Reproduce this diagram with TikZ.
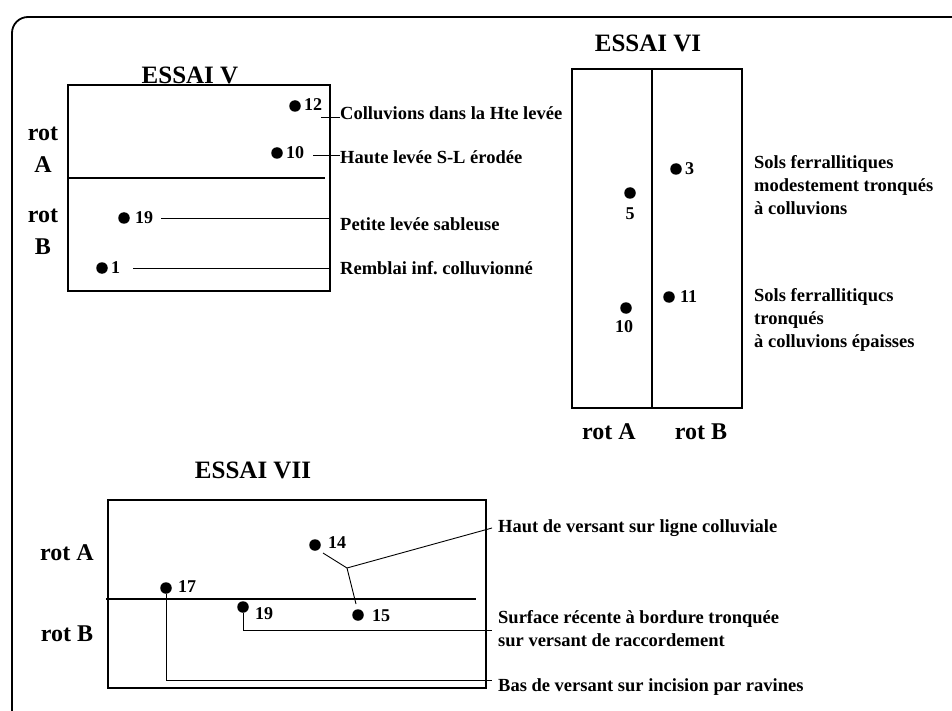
\documentclass[tikz,border=0pt]{standalone}
\usepackage{fontspec}
\setmainfont{Liberation Serif}
\begin{document}
\begin{tikzpicture}[x=1pt,y=-1pt,
  dot/.style={circle,fill=black,inner sep=0pt,minimum size=11.5pt},
  num/.style={font=\bfseries\fontsize{18}{18}\selectfont,inner sep=0pt,anchor=west},
  lab/.style={font=\bfseries\fontsize{18.5}{23}\selectfont,inner sep=0pt,anchor=west,align=left},
  ttl/.style={font=\bfseries\fontsize{25}{25}\selectfont,inner sep=0pt},
  rot/.style={font=\bfseries\fontsize{24}{32}\selectfont,inner sep=0pt,align=center},
  boxline/.style={line width=1.3pt},
  lead/.style={line width=0.9pt}]
\useasboundingbox (0,0) rectangle (952,711);
\begin{scope}
\clip (0,0) rectangle (952,711);
\draw[line width=1.8pt,rounded corners=16pt] (12,17) rectangle (1000,740);
\end{scope}

% ESSAI V
\node[ttl] (t5) at (190,75) {ESSAI V};
\draw[boxline] (68,85) rectangle (330,291);
\draw[boxline] (68,178) -- (325,178);
\node[rot] (r5a) at (43,150) {rot\\A};
\node[rot] (r5b) at (43,232) {rot\\B};
\node[dot] (d12) at (295,106) {};
\node[num] (n12) at (304,105) {12};
\node[dot] (d10) at (277,153) {};
\node[num] (n10) at (286,153) {10};
\node[dot] (d19) at (124,218) {};
\node[num] (n19) at (135,218) {19};
\node[dot] (d1) at (102,268) {};
\node[num] (n1) at (111,268) {1};
\node[lab] (l12) at (340,113) {Colluvions dans la Hte levée};
\node[lab] (l10) at (340,157) {Haute levée S-L érodée};
\node[lab] (l19) at (340,224) {Petite levée sableuse};
\node[lab] (l1) at (340,268) {Remblai inf.\ colluvionné};
\coordinate (c12) at (321,117);
\coordinate (c10) at (313,155);
\coordinate (c19) at (161,218);
\coordinate (c1) at (133,268);
\draw[lead] (c12) -- (l12.west |- c12);
\draw[lead] (c10) -- (l10.west |- c10);
\draw[lead] (c19) -- (330,218);
\draw[lead] (c1) -- (330,268);

% ESSAI VI
\node[ttl] (t6) at (648,43) {ESSAI VI};
\draw[boxline] (572,69) rectangle (742,408);
\draw[boxline] (652,69) -- (652,408);
\node[dot] (d3) at (676,169) {};
\node[num] (n3) at (685,169) {3};
\node[dot] (d5) at (630,193) {};
\node[num,anchor=center] (n5) at (630,214) {5};
\node[dot] (d11) at (669,297) {};
\node[num] (n11) at (680,297) {11};
\node[dot] (d10b) at (626,308) {};
\node[num,anchor=center] (n10b) at (624,327) {10};
\node[rot] (r6a) at (609,432) {rot A};
\node[rot] (r6b) at (701,432) {rot B};
\node[lab,anchor=north west] (l6a) at (754,155) {Sols ferrallitiques\\modestement tronqués\\à colluvions};
\node[lab,anchor=north west] (l6b) at (754,288) {Sols ferrallitiqucs\\tronqués\\à colluvions épaisses};

% ESSAI VII
\node[ttl] (t7) at (253,470) {ESSAI VII};
\draw[boxline] (108,500) rectangle (486,688);
\draw[boxline] (106,599) -- (476,599);
\node[rot] (r7a) at (67,553) {rot A};
\node[rot] (r7b) at (67,634) {rot B};
\node[dot] (d14) at (315,545) {};
\node[num] (n14) at (328,543) {14};
\node[dot] (d17) at (166,588) {};
\node[num] (n17) at (178,587) {17};
\node[dot] (d19b) at (243,607) {};
\node[num] (n19b) at (255,614) {19};
\node[dot] (d15) at (358,615) {};
\node[num] (n15) at (372,616) {15};
\node[lab] (l14) at (498,528) {Haut de versant sur ligne colluviale};
\node[lab,anchor=west] (l19b) at (498,629) {Surface récente à bordure tronquée\\sur versant de raccordement};
\node[lab] (l17) at (498,687) {Bas de versant sur incision par ravines};
\coordinate (j) at (347,568);
\coordinate (s14) at (323,553);
\coordinate (s15) at (356,604);
\coordinate (e14) at (492,528);
\coordinate (e19) at (492,630);
\coordinate (e17) at (492,680);
\draw[lead] (s14) -- (j) -- (s15);
\draw[lead] (j) -- (e14);
\draw[lead] (d19b.south) -- (243,630) -- (e19);
\draw[lead] (d17.south) -- (166,680) -- (e17);
\end{tikzpicture}
\end{document}
